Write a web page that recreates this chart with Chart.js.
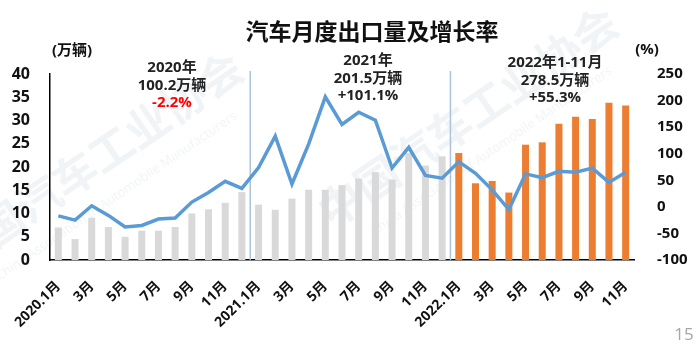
<!DOCTYPE html>
<html lang="zh">
<head>
<meta charset="utf-8">
<title>汽车月度出口量及增长率</title>
<script src="https://cdn.jsdelivr.net/npm/chart.js@4.4.0/dist/chart.umd.min.js"></script>
<style>
  html, body { margin: 0; padding: 0; background: #fff; }
  #wrap { position: relative; width: 700px; height: 349px; }
</style>
</head>
<body>
<div id="wrap"><canvas id="exportChart"></canvas></div>
<script>
// 月份（2020.1 - 2022.11），坐标轴上隔月显示
const months = [
  '2020.1月', '2月', '3月', '4月', '5月', '6月', '7月', '8月', '9月', '10月', '11月', '12月',
  '2021.1月', '2月', '3月', '4月', '5月', '6月', '7月', '8月', '9月', '10月', '11月', '12月',
  '2022.1月', '2月', '3月', '4月', '5月', '6月', '7月', '8月', '9月', '10月', '11月'
];

// 月度出口量（万辆）
const exports2020 = [7.0, 4.5, 9.1, 7.1, 5.0, 6.3, 6.3, 7.1, 10.0, 10.9, 12.3, 14.6];
const exports2021 = [11.9, 10.8, 13.2, 15.1, 15.1, 16.1, 17.5, 18.9, 17.3, 23.0, 20.3, 22.3];
const exports2022 = [23.0, 16.5, 17.0, 14.5, 24.8, 25.3, 29.3, 30.8, 30.3, 33.8, 33.2];

// 同比增长率（%）
const growth2020 = [-17, -25, 2, -16, -38, -35, -23, -21, 9, 27, 48, 35];
const growth2021 = [74, 133, 43, 118, 207, 155, 178, 163, 73, 112, 59, 54];
const growth2022 = [85, 63, 32, -5, 62, 55, 67, 65, 73, 46, 65];

// 坐标轴刻度
const volumeTicks = [0, 5, 10, 15, 20, 25, 30, 35, 40];
const rateTicks = [-100, -50, 0, 50, 100, 150, 200, 250];

// 年度汇总说明
const note2020 = ['2020年', '100.2万辆', '-2.2%'];
const note2021 = ['2021年', '201.5万辆', '+101.1%'];
const note2022 = ['2022年1-11月', '278.5万辆', '+55.3%'];

const FONT = '"Open Sans", "Noto Sans CJK SC", sans-serif';
const GRAY = '#d9d9d9';
const ORANGE = '#ed7d31';
const BLUE = '#5b9bd5';

const volumes = exports2020.concat(exports2021, exports2022);
const rates = growth2020.concat(growth2021, growth2022);
const barColors = volumes.map((v, i) => i < exports2020.length + exports2021.length ? GRAY : ORANGE);

// 背景水印、年份分隔线、标题和注释
const decorations = {
  id: 'decorations',
  beforeDraw(chart) {
    const ctx = chart.ctx;
    ctx.save();
    ctx.fillStyle = 'rgba(200, 210, 222, 0.25)';
    ctx.textAlign = 'center';
    ctx.textBaseline = 'middle';
    [[95, 165], [470, 120]].forEach(([x, y]) => {
      ctx.save();
      ctx.translate(x, y);
      ctx.rotate(-0.6);
      ctx.font = 'bold 44px ' + FONT;
      ctx.fillText('中国汽车工业协会', 0, 0);
      ctx.font = '13px ' + FONT;
      ctx.fillText('China Association of Automobile Manufacturers', 0, 38);
      ctx.restore();
    });
    ctx.restore();
  },
  beforeDatasetsDraw(chart) {
    const ctx = chart.ctx;
    const x = chart.scales.x;
    const bottom = chart.chartArea.bottom;
    ctx.save();
    ctx.strokeStyle = '#a9c3dd';
    ctx.lineWidth = 1.5;
    [12, 24].forEach(i => {
      const px = (x.getPixelForValue(i - 1) + x.getPixelForValue(i)) / 2;
      ctx.beginPath();
      ctx.moveTo(px, 71);
      ctx.lineTo(px, bottom);
      ctx.stroke();
    });
    ctx.restore();
  },
  afterDraw(chart) {
    const ctx = chart.ctx;
    ctx.save();
    ctx.textAlign = 'center';
    ctx.textBaseline = 'middle';

    ctx.fillStyle = '#111';
    ctx.font = 'bold 23px ' + FONT;
    ctx.fillText('汽车月度出口量及增长率', 372, 33);

    ctx.font = 'bold 15px ' + FONT;
    ctx.fillText('(万辆)', 72, 51);
    ctx.fillText('(%)', 647, 50);

    const drawNote = (lines, cx, top, colors) => {
      lines.forEach((t, i) => {
        ctx.fillStyle = colors[i] || '#222';
        ctx.fillText(t, cx, top + i * 17.5);
      });
    };
    drawNote(note2020, 172, 68, ['#222', '#222', '#ff0000']);
    drawNote(note2021, 368, 61, []);
    drawNote(note2022, 555, 63, []);

    ctx.fillStyle = '#a6a6a6';
    ctx.font = '17px ' + FONT;
    ctx.fillText('15', 684, 335);
    ctx.restore();
  }
};

const ctx = document.getElementById('exportChart').getContext('2d');
new Chart(ctx, {
  data: {
    labels: months,
    datasets: [
      {
        type: 'line',
        label: '增长率',
        data: rates,
        yAxisID: 'y1',
        borderColor: BLUE,
        borderWidth: 3.5,
        pointRadius: 0,
        tension: 0,
        order: 0
      },
      {
        type: 'bar',
        label: '出口量',
        data: volumes,
        yAxisID: 'y',
        backgroundColor: barColors,
        barPercentage: 0.42,
        categoryPercentage: 1,
        order: 1
      }
    ]
  },
  options: {
    responsive: true,
    maintainAspectRatio: false,
    animation: false,
    layout: { padding: { top: 74, left: 0, right: 0, bottom: 0 } },
    plugins: {
      legend: { display: false },
      tooltip: { enabled: false }
    },
    scales: {
      x: {
        grid: { display: false },
        border: { display: true, color: '#000', width: 1.5 },
        ticks: {
          autoSkip: false,
          minRotation: 45,
          maxRotation: 45,
          padding: 10,
          color: '#111',
          font: { family: FONT, size: 14, weight: 'bold' },
          callback: (v, i) => i % 2 === 0 ? months[i] : ''
        },
        afterFit: s => { s.height = 89; }
      },
      y: {
        position: 'left',
        min: 0,
        max: 40,
        grid: { display: false },
        border: { display: true, color: '#000', width: 1.5 },
        afterBuildTicks: s => { s.ticks = volumeTicks.map(v => ({ value: v })); },
        ticks: {
          padding: 12,
          color: '#111',
          font: { family: FONT, size: 16, weight: 'bold' }
        },
        afterFit: s => { s.width = 50; }
      },
      y1: {
        position: 'right',
        min: -100,
        max: 250,
        grid: { display: false },
        border: { display: false },
        afterBuildTicks: s => { s.ticks = rateTicks.map(v => ({ value: v })); },
        ticks: {
          padding: 15,
          color: '#111',
          font: { family: FONT, size: 15, weight: 'bold' }
        },
        afterFit: s => { s.width = 66; }
      }
    }
  },
  plugins: [decorations]
});
</script>
</body>
</html>
